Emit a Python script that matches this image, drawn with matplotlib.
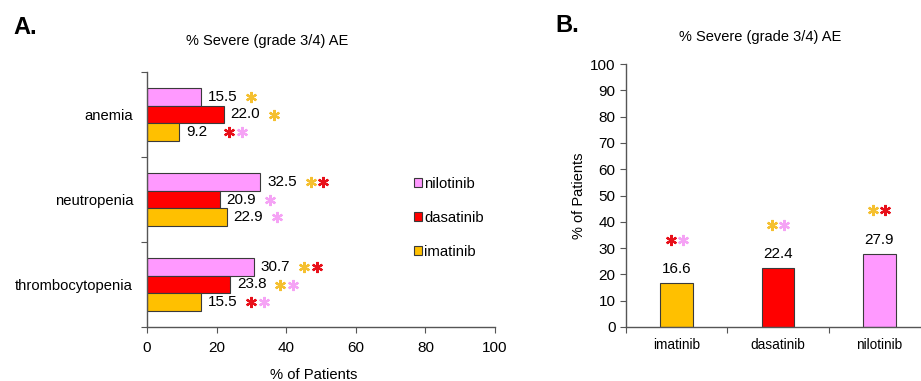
import matplotlib
matplotlib.use("Agg")
import matplotlib.pyplot as plt
import numpy as np
from matplotlib.patches import Patch

plt.rcParams["font.family"] = ["Liberation Sans", "DejaVu Sans"]

# panel A data
events = ["anemia", "neutropenia", "thrombocytopenia"]
drugs_a = ["nilotinib", "dasatinib", "imatinib"]
nilotinib_a = [15.5, 32.5, 30.7]
dasatinib_a = [22.0, 20.9, 23.8]
imatinib_a = [9.2, 22.9, 15.5]
# significance stars per bar (drug whose colour marks the comparison)
stars_nil_a = [["imatinib"], ["imatinib", "dasatinib"], ["imatinib", "dasatinib"]]
stars_das_a = [["imatinib"], ["nilotinib"], ["imatinib", "nilotinib"]]
stars_ima_a = [["dasatinib", "nilotinib"], ["nilotinib"], ["dasatinib", "nilotinib"]]

# panel B data
drugs_b = ["imatinib", "dasatinib", "nilotinib"]
values_b = [16.6, 22.4, 27.9]
stars_b = [["dasatinib", "nilotinib"], ["imatinib", "nilotinib"], ["imatinib", "dasatinib"]]

colors = {"nilotinib": "#FF99FF", "dasatinib": "#FF0000", "imatinib": "#FFC000"}
star_colors = {"nilotinib": "#F5A3F5", "dasatinib": "#E8101A", "imatinib": "#F5C030"}
edge = "#3a3a3a"
axis_col = "#555555"

fig = plt.figure(figsize=(9.21, 3.81), dpi=100)


def style_axes(ax):
    for s in ["top", "right"]:
        ax.spines[s].set_visible(False)
    for s in ["left", "bottom"]:
        ax.spines[s].set_color(axis_col)
        ax.spines[s].set_linewidth(1.0)
    ax.tick_params(which="both", direction="out", color=axis_col, labelsize=11)


def draw_stars(ax, xs, ys, names, horizontal):
    step = 3.6 if horizontal else 0.12
    for x, y, nm in zip(xs, ys, names):
        for k, n in enumerate(nm):
            if horizontal:
                px, py = x + k * step, y
            else:
                px, py = x + (k - (len(nm) - 1) / 2) * step, y
            ax.plot(px, py, marker=(6, 2, 0), ms=8, mew=1.6,
                    color=star_colors[n], mec=star_colors[n], clip_on=False)


# ---- Panel A ----
axA = fig.add_axes([147 / 921, 1 - 327 / 381, 348 / 921, 255 / 381])
style_axes(axA)
ypos = np.arange(len(events))[::-1].astype(float)
h = 0.21
series_a = [(nilotinib_a, "nilotinib", h, stars_nil_a),
            (dasatinib_a, "dasatinib", 0.0, stars_das_a),
            (imatinib_a, "imatinib", -h, stars_ima_a)]
for vals, name, off, st in series_a:
    yy = ypos + off
    axA.barh(yy, vals, height=h, color=colors[name], edgecolor=edge, linewidth=0.8)
    for v, y in zip(vals, yy):
        axA.annotate(f"{v:.1f}", (v, y), xytext=(5, 0), textcoords="offset points",
                     ha="left", va="center", fontsize=11)
    draw_stars(axA, [v + 14.5 for v in vals], yy, st, True)

axA.set_xlim(0, 100)
axA.set_ylim(-0.5, 2.5)
axA.set_xticks([0, 20, 40, 60, 80, 100])
axA.set_yticks([-0.5, 0.5, 1.5, 2.5])
axA.set_yticklabels([])
axA.set_yticks(ypos, minor=True)
axA.set_yticklabels(events, minor=True, fontsize=10.6)
axA.tick_params(axis="y", which="minor", length=0, pad=10)
axA.tick_params(axis="both", which="major", length=4)
axA.tick_params(axis="x", pad=6)

fig.text(314 / 921, 1 - 375 / 381, "% of Patients", ha="center", va="center", fontsize=10.6)
fig.text(267 / 921, 1 - 41 / 381, "% Severe (grade 3/4) AE", ha="center", va="center", fontsize=10.5)
fig.text(13 / 921, 1 - 27 / 381, "A.", ha="left", va="center", fontsize=17, fontweight="bold")

handles = [Patch(facecolor=colors[d], edgecolor=edge, linewidth=0.8) for d in drugs_a]
fig.legend(handles, drugs_a, loc="upper left", bbox_to_anchor=(414 / 921, 1 - 177 / 381),
           frameon=False, fontsize=10.7, handlelength=0.55, handleheight=0.55,
           handletextpad=0.15, labelspacing=1.33, borderpad=0, borderaxespad=0)

# ---- Panel B ----
axB = fig.add_axes([626 / 921, 1 - 327 / 381, 304 / 921, 263 / 381])
style_axes(axB)
xb = np.arange(len(drugs_b))
axB.bar(xb, values_b, width=0.32, color=[colors[d] for d in drugs_b],
        edgecolor=edge, linewidth=0.8)
for x, v in zip(xb, values_b):
    axB.annotate(f"{v:.1f}", (x, v), xytext=(0, 5), textcoords="offset points",
                 ha="center", va="bottom", fontsize=11)
draw_stars(axB, xb, [v + 16.5 for v in values_b], stars_b, False)

axB.set_xlim(-0.5, 2.5)
axB.set_ylim(0, 100)
axB.set_yticks(np.arange(0, 101, 10))
axB.set_xticks([-0.5, 0.5, 1.5, 2.5])
axB.set_xticklabels([])
axB.set_xticks(xb, minor=True)
axB.set_xticklabels(drugs_b, minor=True, fontsize=9.8)
axB.tick_params(axis="x", which="minor", length=0, pad=8)
axB.tick_params(axis="both", which="major", length=4)
axB.set_ylabel("% of Patients", fontsize=10.5, labelpad=3)

fig.text(760 / 921, 1 - 37 / 381, "% Severe (grade 3/4) AE", ha="center", va="center", fontsize=10.5)
fig.text(555 / 921, 1 - 25 / 381, "B.", ha="left", va="center", fontsize=17, fontweight="bold")

fig.savefig("out.png", dpi=100)
